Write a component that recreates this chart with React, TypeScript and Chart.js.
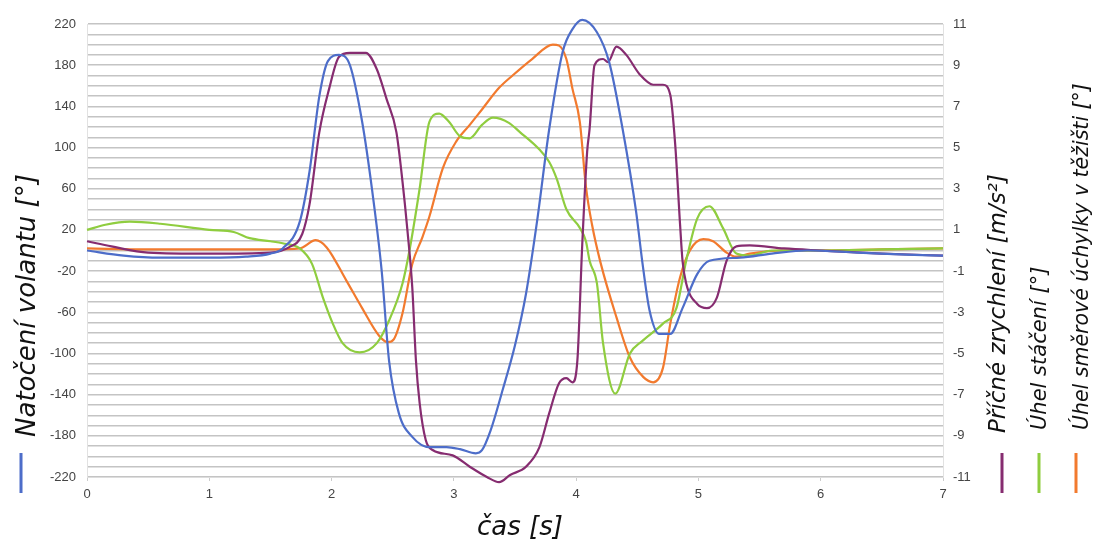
import React, { useEffect, useRef } from "react";
import { Chart, registerables } from "chart.js";

Chart.register(...registerables);

// ---- Data ----
const LEFT_TICKS = [220, 180, 140, 100, 60, 20, -20, -60, -100, -140, -180, -220];
const RIGHT_TICKS = [11, 9, 7, 5, 3, 1, -1, -3, -5, -7, -9, -11];
const X_TICKS = [0, 1, 2, 3, 4, 5, 6, 7];

// Natočení volantu [°]
const T_BLUE = [0, 0.3, 0.6, 1.0, 1.3, 1.5, 1.6, 1.74, 1.82, 1.9, 1.97, 2.06, 2.15, 2.25, 2.33, 2.41, 2.47, 2.55, 2.66, 2.8, 2.94, 3.05, 3.18, 3.23, 3.3, 3.4, 3.5, 3.59, 3.68, 3.78, 3.89, 3.97, 4.05, 4.17, 4.27, 4.38, 4.49, 4.54, 4.6, 4.68, 4.77, 4.87, 4.99, 5.09, 5.34, 5.6, 5.89, 6.3, 6.7, 7.0];
const V_BLUE = [0, -5, -7, -7, -6, -3, 2, 28, 77, 150, 184, 190, 180, 125, 60, -20, -107, -158, -181, -191, -191, -193, -197, -194, -175, -135, -92, -42, 28, 118, 193, 215, 224, 212, 183, 118, 38, -10, -58, -81, -81, -56, -23, -10, -7, -3, 0, -2, -4, -5];

// Příčné zrychlení [m/s²]
const T_PURPLE = [0, 0.2, 0.5, 1.0, 1.5, 1.65, 1.76, 1.82, 1.9, 1.98, 2.06, 2.15, 2.28, 2.37, 2.45, 2.53, 2.58, 2.62, 2.66, 2.69, 2.72, 2.77, 2.83, 2.99, 3.13, 3.27, 3.37, 3.46, 3.59, 3.7, 3.78, 3.86, 3.92, 3.97, 4.01, 4.05, 4.09, 4.11, 4.15, 4.22, 4.26, 4.33, 4.41, 4.52, 4.63, 4.71, 4.77, 4.81, 4.85, 4.87, 4.9, 4.99, 5.07, 5.15, 5.23, 5.31, 5.42, 5.7, 6.0, 6.5, 7.0];
const V_PURPLE = [0.45, 0.2, -0.1, -0.15, -0.1, 0.15, 0.8, 2.25, 5.75, 7.85, 9.4, 9.6, 9.6, 8.8, 7.35, 5.75, 3.35, 1.0, -1.8, -5.35, -7.4, -9.2, -9.7, -9.95, -10.5, -11.0, -11.25, -10.9, -10.5, -9.55, -7.9, -6.45, -6.2, -6.4, -5.35, 0.3, 4.8, 5.9, 9.0, 9.3, 9.15, 9.9, 9.5, 8.55, 8.05, 8.05, 7.55, 5.15, 1.25, -0.5, -1.6, -2.6, -2.8, -2.3, -0.5, 0.2, 0.25, 0.1, 0, -0.15, -0.25];

// Úhel stáčení [°]
const T_GREEN = [0, 0.15, 0.35, 0.6, 1.0, 1.2, 1.33, 1.5, 1.6, 1.74, 1.84, 1.93, 2.01, 2.09, 2.23, 2.37, 2.47, 2.58, 2.64, 2.72, 2.8, 2.88, 2.96, 3.05, 3.13, 3.23, 3.32, 3.45, 3.54, 3.7, 3.78, 3.84, 3.92, 4.03, 4.08, 4.11, 4.17, 4.22, 4.32, 4.44, 4.54, 4.71, 4.82, 4.9, 4.99, 5.09, 5.2, 5.31, 5.42, 5.6, 6.0, 6.5, 7.0];
const V_GREEN = [20, 25, 28, 26, 20, 18, 12, 9, 7, 2, -13, -46, -71, -90, -99, -90, -68, -32, 2, 60, 125, 133, 125, 111, 109, 122, 129, 124, 115, 98, 86, 70, 40, 22, 9, -10, -32, -90, -139, -100, -88, -71, -56, -10, 31, 43, 22, -3, -5, 0, 0, 1, 2];

// Úhel směrové úchylky v těžišti [°]
const T_ORANGE = [0, 0.5, 1.0, 1.5, 1.74, 1.87, 1.96, 2.12, 2.25, 2.39, 2.46, 2.51, 2.58, 2.66, 2.74, 2.8, 2.91, 3.02, 3.13, 3.23, 3.37, 3.48, 3.64, 3.81, 3.86, 3.92, 3.97, 4.03, 4.08, 4.13, 4.2, 4.33, 4.44, 4.55, 4.63, 4.71, 4.77, 4.85, 4.93, 5.04, 5.12, 5.23, 5.31, 5.42, 5.7, 6.0, 6.5, 7.0];
const V_ORANGE = [2, 1, 1, 1, 2, 10, 3, -29, -56, -83, -89, -86, -61, -13, 12, 33, 80, 106, 122, 137, 158, 170, 186, 200, 199, 186, 157, 125, 62, 25, -12, -65, -104, -123, -128, -114, -71, -26, 0, 11, 9, -2, -6, -3, 0, 0, 1, 2];

const TITLE_LEFT = "Natočení volantu [°]";
const TITLE_PURPLE = "Příčné zrychlení [m/s²]";
const TITLE_GREEN = "Úhel stáčení [°]";
const TITLE_ORANGE = "Úhel směrové úchylky v těžišti [°]";
const TITLE_X = "čas [s]";

const C_BLUE = "#4d6dc9";
const C_PURPLE = "#862c70";
const C_GREEN = "#8fcd3f";
const C_ORANGE = "#f27a2e";

const pts = (t: number[], v: number[]) => t.map((x, i) => ({ x, y: v[i] }));

const titlesPlugin = {
  id: "titles",
  afterDraw(chart: any) {
    const ctx = chart.ctx as CanvasRenderingContext2D;
    ctx.save();
    ctx.fillStyle = "#111";
    ctx.textAlign = "left";
    ctx.textBaseline = "alphabetic";
    const vtext = (s: string, x: number, y: number, size: number) => {
      ctx.save();
      ctx.translate(x, y);
      ctx.rotate(-Math.PI / 2);
      ctx.font = `italic ${size}px 'DejaVu Sans'`;
      ctx.fillText(s, 0, 0);
      ctx.restore();
    };
    vtext(TITLE_LEFT, 35, 437, 26);
    vtext(TITLE_PURPLE, 1005, 433, 23);
    vtext(TITLE_GREEN, 1046, 430, 21);
    vtext(TITLE_ORANGE, 1088, 430, 20.5);
    const bar = (x: number, c: string) => {
      ctx.fillStyle = c;
      ctx.fillRect(x - 1.5, 453, 3, 40);
    };
    bar(21, C_BLUE);
    bar(1002, C_PURPLE);
    bar(1039, C_GREEN);
    bar(1076, C_ORANGE);
    ctx.fillStyle = "#111";
    ctx.font = "italic 26px 'DejaVu Sans'";
    ctx.textAlign = "center";
    ctx.textBaseline = "middle";
    ctx.fillText(TITLE_X, 520, 528);
    ctx.restore();
  },
};

export default function App() {
  const ref = useRef<HTMLCanvasElement>(null);
  useEffect(() => {
    if (!ref.current) return;
    const line = (label: string, t: number[], v: number[], color: string, axis: string) => ({
      label,
      data: pts(t, v),
      borderColor: color,
      backgroundColor: color,
      borderWidth: 2.2,
      pointRadius: 0,
      cubicInterpolationMode: "monotone" as const,
      yAxisID: axis,
      clip: 8,
    });
    const chart = new Chart(ref.current, {
      type: "line",
      data: {
        datasets: [
          line(TITLE_LEFT, T_BLUE, V_BLUE, C_BLUE, "y"),
          line(TITLE_PURPLE, T_PURPLE, V_PURPLE, C_PURPLE, "y1"),
          line(TITLE_GREEN, T_GREEN, V_GREEN, C_GREEN, "y"),
          line(TITLE_ORANGE, T_ORANGE, V_ORANGE, C_ORANGE, "y"),
        ],
      },
      options: {
        animation: false,
        responsive: false,
        layout: { padding: { top: 24, left: 0, right: 0, bottom: 0 } },
        plugins: { legend: { display: false }, tooltip: { enabled: false } },
        scales: {
          x: {
            type: "linear",
            min: 0,
            max: 7,
            afterFit: (s: any) => { s.height = 68; },
            afterBuildTicks: (s: any) => { s.ticks = X_TICKS.map((v) => ({ value: v })); },
            ticks: { color: "#444", font: { family: "'Liberation Sans'", size: 13 }, padding: 6 },
            grid: { drawOnChartArea: false, drawTicks: true, tickLength: 4, color: "#ccc" },
            border: { display: true, color: "#ddd" },
          },
          y: {
            position: "left",
            min: -220,
            max: 220,
            afterFit: (s: any) => { s.width = 87; },
            afterBuildTicks: (s: any) => {
              const arr = [];
              for (let v = -220; v <= 220; v += 10) arr.push({ value: v });
              s.ticks = arr;
            },
            ticks: {
              autoSkip: false,
              color: "#444",
              font: { family: "'Liberation Sans'", size: 13 },
              padding: 11,
              callback: (v: any) => (LEFT_TICKS.includes(Number(v)) ? String(v) : ""),
            },
            grid: { color: "#c4c4c4", lineWidth: 1.4, drawTicks: false },
            border: { display: true, color: "#e2e2e2" },
          },
          y1: {
            position: "right",
            min: -11,
            max: 11,
            afterFit: (s: any) => { s.width = 151; },
            afterBuildTicks: (s: any) => { s.ticks = RIGHT_TICKS.map((v) => ({ value: v })); },
            ticks: { autoSkip: false, color: "#444", font: { family: "'Liberation Sans'", size: 13 }, padding: 10 },
            grid: { display: false, drawTicks: false },
            border: { display: true, color: "#e2e2e2" },
          },
        },
      },
      plugins: [titlesPlugin],
    });
    return () => chart.destroy();
  }, []);
  return (
    <canvas
      ref={ref}
      width={1094}
      height={545}
      style={{ position: "fixed", left: 0, top: 0, width: 1094, height: 545, background: "#fff" }}
    />
  );
}
